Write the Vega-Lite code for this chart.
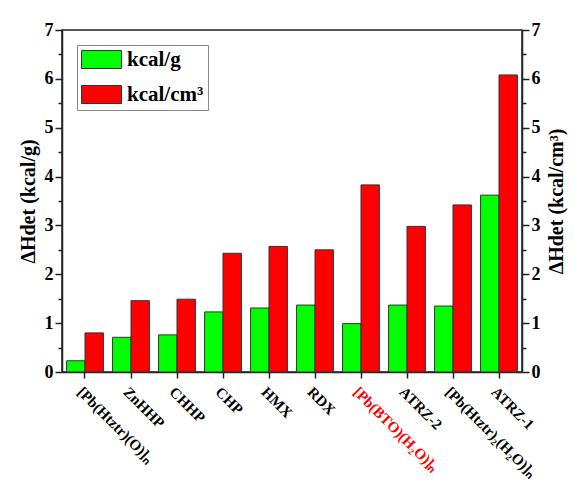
{
  "$schema": "https://vega.github.io/schema/vega-lite/v6.json",
  "width": 460,
  "height": 342,
  "padding": {"left": 18, "top": 21, "right": 5, "bottom": 5},
  "background": "white",
  "data": {
    "values": [
      {"compound": "[Pb(Htztr)(O)]ₙ", "unit": "kcal/g", "value": 0.23},
      {"compound": "[Pb(Htztr)(O)]ₙ", "unit": "kcal/cm³", "value": 0.8},
      {"compound": "ZnHHP", "unit": "kcal/g", "value": 0.71},
      {"compound": "ZnHHP", "unit": "kcal/cm³", "value": 1.46},
      {"compound": "CHHP", "unit": "kcal/g", "value": 0.76},
      {"compound": "CHHP", "unit": "kcal/cm³", "value": 1.49},
      {"compound": "CHP", "unit": "kcal/g", "value": 1.23},
      {"compound": "CHP", "unit": "kcal/cm³", "value": 2.43},
      {"compound": "HMX", "unit": "kcal/g", "value": 1.31},
      {"compound": "HMX", "unit": "kcal/cm³", "value": 2.57},
      {"compound": "RDX", "unit": "kcal/g", "value": 1.37},
      {"compound": "RDX", "unit": "kcal/cm³", "value": 2.5},
      {"compound": "[Pb(BTO)(H₂O)]ₙ", "unit": "kcal/g", "value": 0.99},
      {"compound": "[Pb(BTO)(H₂O)]ₙ", "unit": "kcal/cm³", "value": 3.83},
      {"compound": "ATRZ-2", "unit": "kcal/g", "value": 1.37},
      {"compound": "ATRZ-2", "unit": "kcal/cm³", "value": 2.98},
      {"compound": "[Pb(Htztr)₂(H₂O)]ₙ", "unit": "kcal/g", "value": 1.35},
      {"compound": "[Pb(Htztr)₂(H₂O)]ₙ", "unit": "kcal/cm³", "value": 3.42},
      {"compound": "ATRZ-1", "unit": "kcal/g", "value": 3.62},
      {"compound": "ATRZ-1", "unit": "kcal/cm³", "value": 6.08}
    ]
  },
  "encoding": {
    "x": {
      "field": "compound",
      "type": "nominal",
      "sort": null,
      "scale": {"paddingInner": 0.2, "paddingOuter": 0.1},
      "axis": {
        "title": null,
        "labelAngle": 45,
        "labelFontSize": 15,
        "labelPadding": 6,
        "tickSize": 6,
        "labelColor": {
          "condition": {"test": "datum.value === '[Pb(BTO)(H₂O)]ₙ'", "value": "#ff0000"},
          "value": "black"
        }
      }
    },
    "xOffset": {"field": "unit", "type": "nominal", "sort": ["kcal/g", "kcal/cm³"], "scale": {"padding": 0}}
  },
  "layer": [
    {
      "mark": {"type": "bar", "stroke": "#333333", "strokeWidth": 1},
      "encoding": {
        "y": {
          "field": "value",
          "type": "quantitative",
          "scale": {"domain": [0, 7], "nice": false},
          "axis": {
            "title": "ΔHdet (kcal/g)",
            "values": [0, 0.5, 1, 1.5, 2, 2.5, 3, 3.5, 4, 4.5, 5, 5.5, 6, 6.5, 7],
            "labelExpr": "datum.value % 1 === 0 ? format(datum.value, 'd') : ''",
            "tickSize": 7,
            "tickDash": {"condition": {"test": "datum.value % 1 !== 0", "value": [4, 10]}, "value": [1, 0]},
            "labelPadding": 2,
            "titlePadding": 6
          }
        },
        "color": {
          "field": "unit",
          "type": "nominal",
          "sort": ["kcal/g", "kcal/cm³"],
          "scale": {"domain": ["kcal/g", "kcal/cm³"], "range": ["#00ff00", "#ff0000"]},
          "legend": {
            "title": null,
            "orient": "top-left",
            "offset": 15,
            "symbolType": "M-2,-0.9H2V0.9H-2Z",
            "symbolSize": 400,
            "symbolOffset": 10,
            "symbolStrokeColor": "#333333",
            "symbolStrokeWidth": 1,
            "symbolOpacity": 1,
            "labelFont": "Liberation Serif",
            "labelFontWeight": "bold",
            "labelFontSize": 21,
            "labelOffset": 15,
            "rowPadding": 12,
            "padding": 4,
            "strokeColor": "#888888",
            "fillColor": "white"
          }
        }
      }
    },
    {
      "mark": {"type": "bar", "opacity": 0},
      "encoding": {
        "y": {
          "field": "value",
          "type": "quantitative",
          "scale": {"domain": [0, 7], "nice": false},
          "axis": {
            "orient": "right",
            "title": "ΔHdet (kcal/cm³)",
            "titleAngle": -90,
            "titleBaseline": "top",
            "values": [0, 0.5, 1, 1.5, 2, 2.5, 3, 3.5, 4, 4.5, 5, 5.5, 6, 6.5, 7],
            "labelExpr": "datum.value % 1 === 0 ? format(datum.value, 'd') : ''",
            "tickSize": 7,
            "tickDash": {"condition": {"test": "datum.value % 1 !== 0", "value": [4, 10]}, "value": [1, 0]},
            "labelPadding": 2,
            "titlePadding": 6
          }
        }
      }
    }
  ],
  "resolve": {"scale": {"y": "independent"}},
  "config": {
    "view": {"stroke": "#222222", "strokeWidth": 1.5},
    "axis": {
      "grid": false,
      "domainColor": "#222222",
      "domainWidth": 1.5,
      "tickColor": "#222222",
      "tickWidth": 1.5,
      "labelFont": "Liberation Serif",
      "labelFontWeight": "bold",
      "labelFontSize": 18,
      "labelColor": "black",
      "titleFont": "Liberation Serif",
      "titleFontWeight": "bold",
      "titleFontSize": 20,
      "titleColor": "black"
    }
  }
}
